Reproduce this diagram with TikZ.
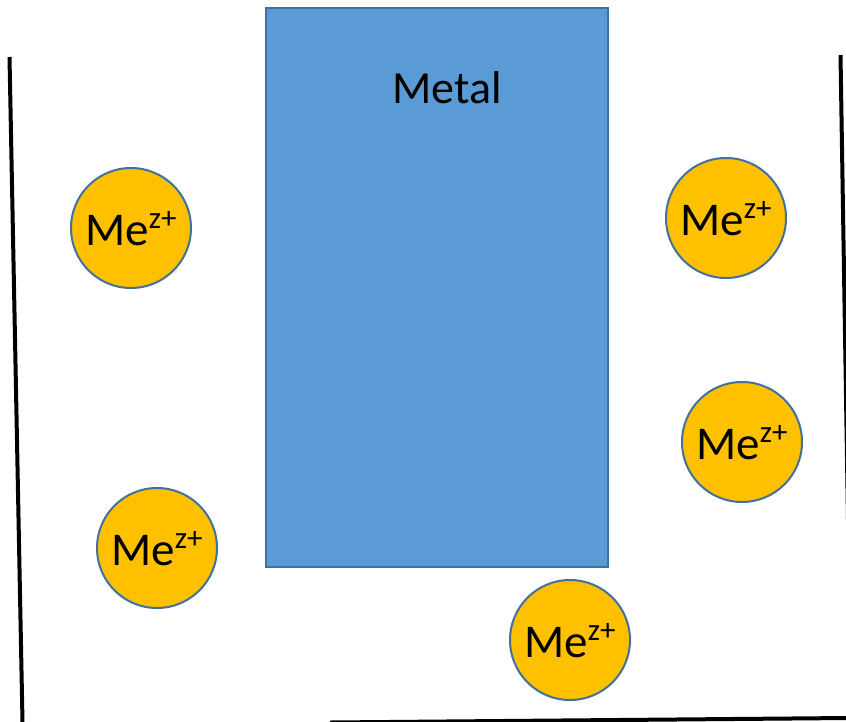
\documentclass[tikz,border=0pt]{standalone}
\usepackage{fontspec}
\setmainfont{Carlito}
\definecolor{metalblue}{HTML}{5B9BD5}
\definecolor{edgeblue}{HTML}{41719C}
\definecolor{ionyellow}{HTML}{FFC000}
\tikzset{
  wall/.style={line width=4pt, black},
  ion/.style={circle, fill=ionyellow, draw=edgeblue, line width=2pt, minimum size=120pt, inner sep=0pt},
  ionlabel/.style={anchor=base, inner sep=0pt, font=\fontsize{47}{50}\selectfont},
  metalbox/.style={fill=metalblue, draw=edgeblue, line width=2pt}
}
\newcommand{\mezplus}{Me\raisebox{17pt}{\fontsize{31}{33}\selectfont z+}}
\begin{document}
\begin{tikzpicture}[x=1pt, y=-1pt]
\useasboundingbox (0,0) rectangle (846,721);
\fill[white] (0,0) rectangle (846,721);
\begin{scope}
\clip (0,0) rectangle (846,721);
\coordinate (lt) at (9.5,57);
\coordinate (lb) at (22.5,722);
\coordinate (rt) at (840.5,55);
\coordinate (rb) at (848,520);
\coordinate (bl) at (330,722.5);
\coordinate (br) at (848,718);
\draw[wall] (lt) -- (lb);
\draw[wall] (rt) -- (rb);
\draw[wall] (bl) -- (br);
\end{scope}
\draw[metalbox] (266,8) rectangle (608,567);
\node[font=\fontsize{46}{50}\selectfont, anchor=base] (metal) at (447,103) {Metal};
\node[ion] (i1) at (131,228) {};
\node[ion] (i2) at (726,218) {};
\node[ion] (i3) at (742,442) {};
\node[ion] (i4) at (157,548) {};
\node[ion] (i5) at (570,640) {};
\node[ionlabel] (t1) at ([yshift=-17pt]i1.center) {\mezplus};
\node[ionlabel] (t2) at ([yshift=-17pt]i2.center) {\mezplus};
\node[ionlabel] (t3) at ([yshift=-17pt]i3.center) {\mezplus};
\node[ionlabel] (t4) at ([yshift=-17pt]i4.center) {\mezplus};
\node[ionlabel] (t5) at ([yshift=-17pt]i5.center) {\mezplus};
\end{tikzpicture}
\end{document}
